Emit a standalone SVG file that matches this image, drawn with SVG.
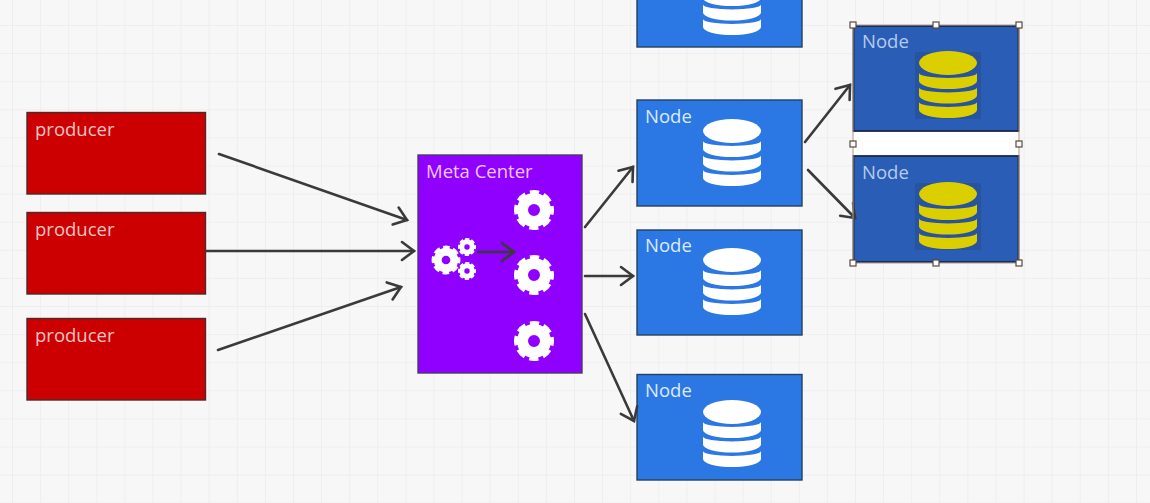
<svg xmlns="http://www.w3.org/2000/svg" xmlns:xlink="http://www.w3.org/1999/xlink" width="1150" height="503" viewBox="0 0 1150 503">
<style>
text{font-family:"Open Sans","Noto Sans","Liberation Sans",sans-serif;font-size:18.5px}
.prod{fill:#cc0000;stroke:#4a2a2a;stroke-width:1.4}
.meta{fill:#8f00ff;stroke:#4a3a6a;stroke-width:1.4}
.blue{fill:#2b78e4;stroke:#24405f;stroke-width:1.4}
.dark{fill:#2a5db5;stroke:#1a2745;stroke-width:1.8}
.tp{fill:#f2c4c4}.tm{fill:#f0c8ff}.tb{fill:#dceaff}.td{fill:#b5cbee}
.cn{fill:none;stroke:#3a3a3a;stroke-width:2.6;stroke-linecap:round;marker-end:url(#ah)}
.h{fill:#fff;stroke:#5a4a40;stroke-width:1.2}
.ring{fill:none;stroke:#fff;stroke-width:11}
.teeth{fill:none;stroke:#fff;stroke-width:5;stroke-dasharray:9 4.74;stroke-dashoffset:4.5}
</style>
<defs>
<pattern id="grid" x="12" y="25" width="28.1" height="28.1" patternUnits="userSpaceOnUse">
<path d="M0 0H28.1M0 0V28.1" fill="none" stroke="#ececec" stroke-width="1.5"/>
</pattern>
<marker id="ah" markerUnits="userSpaceOnUse" markerWidth="24" markerHeight="24" refX="16" refY="12" orient="auto">
<path d="M4 3L16 12L4 21" fill="none" stroke="#3a3a3a" stroke-width="2.6" stroke-linecap="round"/>
</marker>
<g id="gear">
<circle r="11.5" class="ring"/>
<circle r="17.5" class="teeth"/>
</g>
<g id="db">
<ellipse cx="0" cy="0" rx="29" ry="12"/>
<path d="M-29 10A29 5 0 0 0 29 10V18A29 8 0 0 1-29 18Z"/>
<path d="M-29 24.500A29 5 0 0 0 29 24.500V32.500A29 8 0 0 1-29 32.500Z"/>
<path d="M-29 39A29 5 0 0 0 29 39V47A29 8 0 0 1-29 47Z"/>
</g>
</defs>
<rect id="bg" width="1150" height="503" fill="#f7f7f7"/>
<rect width="1150" height="503" fill="url(#grid)"/>
<g id="producer1"><rect class="prod" x="27" y="112.500" width="178.500" height="81.500"/><text class="tp" x="35" y="136">producer</text></g>
<g id="producer2"><rect class="prod" x="27" y="212.500" width="178.500" height="81.500"/><text class="tp" x="35" y="236">producer</text></g>
<g id="producer3"><rect class="prod" x="27" y="318.500" width="178.500" height="81.500"/><text class="tp" x="35" y="342">producer</text></g>
<g id="meta-center">
<rect class="meta" x="418" y="155" width="164" height="218"/>
<text class="tm" x="426" y="178">Meta Center</text>
<use xlink:href="#gear" href="#gear" transform="translate(534 210)"/>
<use xlink:href="#gear" href="#gear" transform="translate(534 275)"/>
<use xlink:href="#gear" href="#gear" transform="translate(534 341)"/>
<use xlink:href="#gear" href="#gear" transform="translate(446 260) scale(.72)"/>
<use xlink:href="#gear" href="#gear" transform="translate(467 247) scale(.45)"/>
<use xlink:href="#gear" href="#gear" transform="translate(467 271) scale(.45)"/>
</g>
<g id="node-top"><rect class="blue" x="637" y="-59" width="165" height="106"/><use xlink:href="#db" href="#db" fill="#fff" transform="translate(732 -20)"/></g>
<g id="node1"><rect class="blue" x="637" y="100" width="165" height="106"/><text class="tb" x="645" y="123">Node</text><use xlink:href="#db" href="#db" fill="#fff" transform="translate(732 131)"/></g>
<g id="node2"><rect class="blue" x="637" y="230" width="165" height="105"/><text class="tb" x="645" y="252">Node</text><use xlink:href="#db" href="#db" fill="#fff" transform="translate(732 260)"/></g>
<g id="node3"><rect class="blue" x="637" y="374.500" width="165" height="105.500"/><text class="tb" x="645" y="397">Node</text><use xlink:href="#db" href="#db" fill="#fff" transform="translate(732 412)"/></g>
<g id="selection-gap"><rect x="853.500" y="131" width="165" height="25" fill="#fff"/></g>
<g id="node4"><rect class="dark" x="853.500" y="26" width="165" height="105"/><text class="td" x="862" y="48">Node</text><rect x="915" y="52" width="66" height="67" fill="#2753a0"/><use xlink:href="#db" href="#db" fill="#dccf00" transform="translate(948 63)"/></g>
<g id="node5"><rect class="dark" x="853.500" y="156" width="165" height="106"/><text class="td" x="862" y="179">Node</text><rect x="915" y="183" width="66" height="67" fill="#2753a0"/><use xlink:href="#db" href="#db" fill="#dccf00" transform="translate(948 194)"/></g>
<g id="connectors">
<path class="cn" d="M219 154L407 220"/>
<path class="cn" d="M206 251L414 251"/>
<path class="cn" d="M218 350L401 287"/>
<path class="cn" d="M478 252L514 252"/>
<path class="cn" d="M585 227L633 167"/>
<path class="cn" d="M585 276L633 276"/>
<path class="cn" d="M585 314L634 421"/>
<path class="cn" d="M805 142L850 85"/>
<path class="cn" d="M808 170L855 218"/>
</g>
<g id="selection">
<rect x="853" y="25" width="166" height="238" fill="none" stroke="#b09a90" stroke-width="1"/>
<rect class="h" x="850" y="22" width="6" height="6"/>
<rect class="h" x="933" y="22" width="6" height="6"/>
<rect class="h" x="1016" y="22" width="6" height="6"/>
<rect class="h" x="850" y="141" width="6" height="6"/>
<rect class="h" x="1016" y="141" width="6" height="6"/>
<rect class="h" x="850" y="260" width="6" height="6"/>
<rect class="h" x="933" y="260" width="6" height="6"/>
<rect class="h" x="1016" y="260" width="6" height="6"/>
</g>
</svg>
